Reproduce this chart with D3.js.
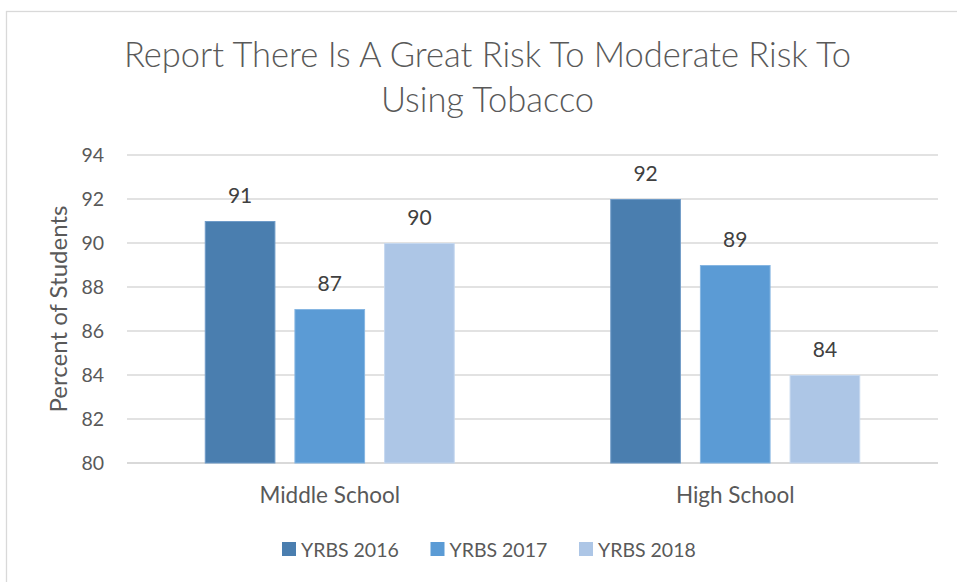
<!DOCTYPE html>
<html>
<head>
<meta charset="utf-8">
<script src="https://cdn.jsdelivr.net/npm/d3@7"></script>
<style>
  html, body { margin: 0; padding: 0; background: #fff; }
  svg { display: block; font-family: Lato, "Open Sans", sans-serif; }
</style>
</head>
<body>
<svg id="chart" width="957" height="582"></svg>
<script>
const titleLines = ["Report There Is A Great Risk To Moderate Risk To", "Using Tobacco"];
const categories = ["Middle School", "High School"];
const seriesNames = ["YRBS 2016", "YRBS 2017", "YRBS 2018"];
const yrbs2016 = [91, 92];
const yrbs2017 = [87, 89];
const yrbs2018 = [90, 84];
const yTicks = [80, 82, 84, 86, 88, 90, 92, 94];
const colors = ["#4A7EAF", "#5B9BD5", "#ADC6E6"];
const strokes = ["#6F9BC8", "#86B6E2", "#C6D8EF"];
const yLabel = "Percent of Students";

const seriesValues = [yrbs2016, yrbs2017, yrbs2018];
const svg = d3.select("#chart");

// chart border
svg.append("rect").attr("x", 6.5).attr("y", 11.5).attr("width", 1000).attr("height", 1000)
  .attr("fill", "none").attr("stroke", "#D9D9D9").attr("stroke-width", 1.3);

const plot = { left: 127, right: 938, top: 155, bottom: 463 };

const y = d3.scaleLinear().domain([80, 94]).range([plot.bottom, plot.top]);
const x0 = d3.scaleBand().domain(categories).range([plot.left, plot.right])
  .paddingInner(0.3835).paddingOuter(0.19175);
const x1 = d3.scaleBand().domain(seriesNames).range([0, x0.bandwidth()]).paddingInner(0.212).paddingOuter(0);

// gridlines
svg.append("g").selectAll("line").data(yTicks).join("line")
  .attr("x1", plot.left).attr("x2", plot.right)
  .attr("y1", d => y(d)).attr("y2", d => y(d))
  .attr("stroke", "#D9D9D9").attr("stroke-width", d => d === 80 ? 2 : 1.3);

// y tick labels
const yAxis = d3.axisLeft(y).tickValues(yTicks).tickSize(0).tickPadding(0);
const gy = svg.append("g").attr("transform", `translate(${plot.left - 23},0)`).call(yAxis);
gy.select(".domain").remove();
gy.selectAll("text").attr("font-size", 19.5).attr("fill", "#595959").attr("font-family", "Lato, sans-serif");

// y axis title
svg.append("text").attr("transform", `translate(67,${(plot.top + plot.bottom) / 2}) rotate(-90)`)
  .attr("text-anchor", "middle").attr("font-size", 24).attr("fill", "#595959").text(yLabel);

// bars
const groups = svg.append("g").selectAll("g").data(categories).join("g")
  .attr("transform", d => `translate(${x0(d)},0)`);
groups.selectAll("rect").data((c, ci) => seriesNames.map((s, si) => ({ s, si, v: seriesValues[si][ci] })))
  .join("rect")
  .attr("x", d => x1(d.s) + 0.5).attr("width", x1.bandwidth() - 1)
  .attr("y", d => y(d.v) + 0.5).attr("height", d => y(80) - y(d.v) - 0.5)
  .attr("fill", d => colors[d.si]).attr("stroke", d => strokes[d.si]).attr("stroke-width", 1);

// data labels
groups.selectAll("text").data((c, ci) => seriesNames.map((s, si) => ({ s, si, v: seriesValues[si][ci] })))
  .join("text")
  .attr("x", d => x1(d.s) + x1.bandwidth() / 2).attr("y", d => y(d.v) - 18)
  .attr("text-anchor", "middle").attr("font-size", 21).attr("fill", "#404040").text(d => d.v);

// category labels
const xAxis = d3.axisBottom(x0).tickSize(0).tickPadding(0);
const gx = svg.append("g").attr("transform", `translate(0,${plot.bottom + 24})`).call(xAxis);
gx.select(".domain").remove();
gx.selectAll("text").attr("font-size", 22.5).attr("fill", "#595959").attr("font-family", "Lato, sans-serif");

// title
svg.append("g").selectAll("text").data(titleLines).join("text")
  .attr("x", 487.5).attr("y", (d, i) => 67 + i * 45)
  .attr("text-anchor", "middle").attr("font-size", 34.5).attr("font-weight", 300)
  .attr("fill", "#595959").text(d => d);

// legend
const legend = svg.append("g").selectAll("g").data(seriesNames).join("g")
  .attr("transform", (d, i) => `translate(${282 + i * 148.5},542)`);
legend.append("rect").attr("width", 14).attr("height", 14).attr("fill", (d, i) => colors[i]);
legend.append("text").attr("x", 19).attr("y", 14.5).attr("font-size", 19.5).attr("fill", "#595959").text(d => d);
</script>
</body>
</html>
